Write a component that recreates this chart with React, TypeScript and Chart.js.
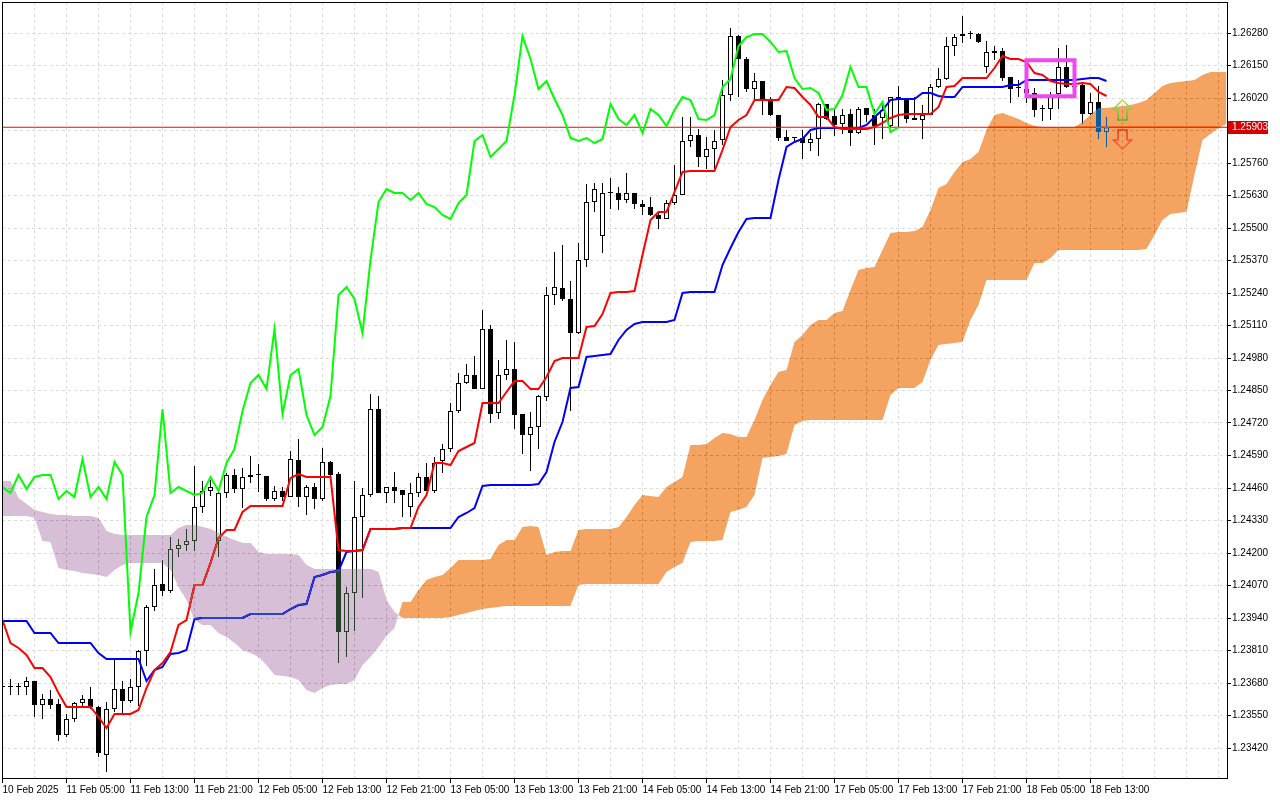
import React, { useEffect, useRef } from 'react';
import { Chart, registerables } from 'chart.js';
import type { ChartConfiguration, Plugin } from 'chart.js';

// H1 bars, 10 Feb 21:00 .. 18 Feb 15:00 (index = bar number)
const opens = [
  1.23664, 1.23664, 1.23664, 1.23664, 1.23688, 1.23592, 1.23616, 1.23596, 1.23472, 1.23536,
  1.23600, 1.23616, 1.23584, 1.23392, 1.23576, 1.23656, 1.23608, 1.23664, 1.23808, 1.23984,
  1.24076, 1.24048, 1.24216, 1.24232, 1.24248, 1.24384, 1.24448, 1.24248, 1.24440, 1.24512,
  1.24456, 1.24504, 1.24512, 1.24508, 1.24416, 1.24448, 1.24424, 1.24572, 1.24424, 1.24464,
  1.24416, 1.24564, 1.24516, 1.23884, 1.24040, 1.24344, 1.24432, 1.24776, 1.24440, 1.24464,
  1.24452, 1.24384, 1.24440, 1.24504, 1.24448, 1.24568, 1.24616, 1.24768, 1.24880, 1.24912,
  1.24856, 1.25096, 1.24760, 1.24912, 1.24936, 1.24756, 1.24672, 1.24704, 1.24824, 1.25232,
  1.25260, 1.25216, 1.25080, 1.25372, 1.25604, 1.25468, 1.25640, 1.25640, 1.25612, 1.25640,
  1.25596, 1.25584, 1.25552, 1.25536, 1.25600, 1.25632, 1.25848, 1.25872, 1.25784, 1.25816,
  1.25852, 1.26032, 1.26268, 1.26176, 1.26056, 1.26088, 1.26012, 1.25952, 1.25864, 1.25860,
  1.25860, 1.25840, 1.25856, 1.25996, 1.25948, 1.25916, 1.25956, 1.25880, 1.25980, 1.25952,
  1.25940, 1.25908, 1.26024, 1.26016, 1.25940, 1.25932, 1.25952, 1.26064, 1.26096, 1.26228,
  1.26268, 1.26276, 1.26276, 1.26144, 1.26200, 1.26208, 1.26104, 1.26060, 1.26056, 1.26040,
  1.25976, 1.25976, 1.26036, 1.26144, 1.26064, 1.26072, 1.25956, 1.26004, 1.25884,
];
const highs = [
  1.23672, 1.23696, 1.23680, 1.23704, 1.23688, 1.23636, 1.23652, 1.23616, 1.23556, 1.23604,
  1.23632, 1.23664, 1.23588, 1.23604, 1.23776, 1.23688, 1.23696, 1.23812, 1.23992, 1.24136,
  1.24172, 1.24264, 1.24256, 1.24296, 1.24548, 1.24488, 1.24492, 1.24448, 1.24520, 1.24536,
  1.24540, 1.24588, 1.24556, 1.24508, 1.24468, 1.24464, 1.24608, 1.24656, 1.24472, 1.24480,
  1.24620, 1.24568, 1.24524, 1.24064, 1.24488, 1.24460, 1.24836, 1.24828, 1.24464, 1.24524,
  1.24452, 1.24480, 1.24520, 1.24560, 1.24584, 1.24636, 1.24800, 1.24920, 1.24956, 1.24988,
  1.25172, 1.25112, 1.24972, 1.25052, 1.25044, 1.24756, 1.24764, 1.24832, 1.25264, 1.25404,
  1.25432, 1.25288, 1.25440, 1.25676, 1.25680, 1.25680, 1.25700, 1.25664, 1.25720, 1.25640,
  1.25612, 1.25624, 1.25568, 1.25612, 1.25752, 1.25944, 1.25944, 1.25896, 1.25864, 1.25892,
  1.26092, 1.26300, 1.26272, 1.26184, 1.26120, 1.26088, 1.26024, 1.25952, 1.25892, 1.25864,
  1.25892, 1.25880, 1.26000, 1.25996, 1.25976, 1.25976, 1.25976, 1.25984, 1.25980, 1.25976,
  1.26000, 1.26024, 1.26068, 1.26016, 1.26024, 1.25992, 1.26076, 1.26140, 1.26264, 1.26276,
  1.26348, 1.26288, 1.26280, 1.26248, 1.26228, 1.26220, 1.26104, 1.26092, 1.26072, 1.26060,
  1.25992, 1.26044, 1.26220, 1.26232, 1.26076, 1.26080, 1.26040, 1.26068, 1.25944,
];
const lows = [
  1.23656, 1.23632, 1.23632, 1.23632, 1.23544, 1.23536, 1.23576, 1.23448, 1.23464, 1.23524,
  1.23584, 1.23576, 1.23384, 1.23324, 1.23564, 1.23560, 1.23600, 1.23588, 1.23748, 1.23968,
  1.24028, 1.24040, 1.24184, 1.24208, 1.24208, 1.24360, 1.24428, 1.24184, 1.24420, 1.24440,
  1.24380, 1.24480, 1.24444, 1.24408, 1.24408, 1.24408, 1.24424, 1.24384, 1.24352, 1.24376,
  1.24408, 1.24508, 1.23760, 1.23784, 1.23888, 1.24020, 1.24424, 1.24440, 1.24400, 1.24400,
  1.24344, 1.24344, 1.24424, 1.24448, 1.24440, 1.24520, 1.24604, 1.24760, 1.24876, 1.24856,
  1.24856, 1.24720, 1.24736, 1.24892, 1.24696, 1.24596, 1.24528, 1.24616, 1.24808, 1.25192,
  1.25208, 1.24768, 1.25076, 1.25344, 1.25564, 1.25400, 1.25576, 1.25572, 1.25600, 1.25576,
  1.25552, 1.25548, 1.25496, 1.25536, 1.25592, 1.25632, 1.25824, 1.25744, 1.25736, 1.25736,
  1.25832, 1.26008, 1.26024, 1.26044, 1.26012, 1.25952, 1.25948, 1.25848, 1.25848, 1.25844,
  1.25776, 1.25808, 1.25788, 1.25932, 1.25868, 1.25876, 1.25828, 1.25876, 1.25924, 1.25832,
  1.25856, 1.25904, 1.25904, 1.25920, 1.25932, 1.25856, 1.25952, 1.26060, 1.26092, 1.26188,
  1.26240, 1.26256, 1.26240, 1.26120, 1.26172, 1.26088, 1.26000, 1.26024, 1.26000, 1.25944,
  1.25928, 1.25932, 1.25976, 1.26060, 1.26044, 1.25916, 1.25952, 1.25856, 1.25824,
];
const closes = [
  1.23664, 1.23664, 1.23664, 1.23688, 1.23592, 1.23616, 1.23592, 1.23472, 1.23536, 1.23600,
  1.23616, 1.23584, 1.23400, 1.23576, 1.23656, 1.23608, 1.23664, 1.23808, 1.23984, 1.24072,
  1.24048, 1.24216, 1.24232, 1.24248, 1.24384, 1.24448, 1.24464, 1.24440, 1.24512, 1.24456,
  1.24504, 1.24512, 1.24512, 1.24416, 1.24448, 1.24424, 1.24576, 1.24424, 1.24464, 1.24416,
  1.24564, 1.24512, 1.23884, 1.24040, 1.24344, 1.24432, 1.24776, 1.24440, 1.24464, 1.24448,
  1.24432, 1.24440, 1.24504, 1.24448, 1.24560, 1.24616, 1.24768, 1.24880, 1.24912, 1.24856,
  1.25096, 1.24756, 1.24912, 1.24936, 1.24752, 1.24672, 1.24704, 1.24828, 1.25232, 1.25264,
  1.25216, 1.25080, 1.25372, 1.25604, 1.25656, 1.25640, 1.25640, 1.25612, 1.25640, 1.25596,
  1.25584, 1.25552, 1.25536, 1.25600, 1.25632, 1.25848, 1.25872, 1.25784, 1.25816, 1.25848,
  1.26032, 1.26268, 1.26176, 1.26056, 1.26088, 1.26016, 1.25952, 1.25860, 1.25848, 1.25860,
  1.25840, 1.25856, 1.25996, 1.25936, 1.25912, 1.25952, 1.25880, 1.25976, 1.25952, 1.25908,
  1.25972, 1.26024, 1.26012, 1.25936, 1.25932, 1.25952, 1.26064, 1.26096, 1.26228, 1.26264,
  1.26276, 1.26276, 1.26244, 1.26204, 1.26208, 1.26100, 1.26056, 1.26060, 1.26040, 1.25972,
  1.25976, 1.26032, 1.26144, 1.26064, 1.26064, 1.25956, 1.26004, 1.25884, 1.25903,
];

// Ichimoku (9, 26, 52)
const tenkan = [
  1.23932, 1.23840, 1.23820, 1.23792, 1.23740, 1.23740, 1.23704, 1.23640, 1.23584, 1.23584,
  1.23584, 1.23584, 1.23544, 1.23500, 1.23556, 1.23556, 1.23556, 1.23572, 1.23660, 1.23732,
  1.23760, 1.23804, 1.23912, 1.23932, 1.24072, 1.24072, 1.24160, 1.24260, 1.24292, 1.24292,
  1.24364, 1.24388, 1.24388, 1.24388, 1.24388, 1.24388, 1.24500, 1.24516, 1.24504, 1.24504,
  1.24504, 1.24504, 1.24212, 1.24208, 1.24208, 1.24212, 1.24296, 1.24296, 1.24296, 1.24296,
  1.24300, 1.24300, 1.24384, 1.24432, 1.24560, 1.24560, 1.24552, 1.24608, 1.24624, 1.24640,
  1.24800, 1.24800, 1.24800, 1.24844, 1.24888, 1.24888, 1.24856, 1.24856, 1.24904, 1.24968,
  1.24980, 1.24980, 1.24980, 1.25104, 1.25108, 1.25156, 1.25240, 1.25244, 1.25244, 1.25248,
  1.25392, 1.25532, 1.25564, 1.25564, 1.25644, 1.25724, 1.25728, 1.25728, 1.25728, 1.25728,
  1.25812, 1.25904, 1.25932, 1.25952, 1.26012, 1.26012, 1.26012, 1.26012, 1.26064, 1.26060,
  1.26024, 1.25992, 1.25944, 1.25944, 1.25904, 1.25896, 1.25896, 1.25896, 1.25896, 1.25904,
  1.25920, 1.25940, 1.25952, 1.25956, 1.25956, 1.25956, 1.25956, 1.25984, 1.26064, 1.26068,
  1.26100, 1.26100, 1.26100, 1.26100, 1.26140, 1.26188, 1.26176, 1.26176, 1.26164, 1.26120,
  1.26112, 1.26088, 1.26080, 1.26076, 1.26076, 1.26080, 1.26076, 1.26044, 1.26028,
];
const kijun = [
  1.23928, 1.23928, 1.23928, 1.23928, 1.23880, 1.23880, 1.23880, 1.23840, 1.23840, 1.23840,
  1.23840, 1.23840, 1.23800, 1.23776, 1.23776, 1.23776, 1.23776, 1.23776, 1.23688, 1.23732,
  1.23744, 1.23796, 1.23800, 1.23812, 1.23936, 1.23940, 1.23940, 1.23940, 1.23940, 1.23940,
  1.23940, 1.23956, 1.23956, 1.23956, 1.23956, 1.23956, 1.23976, 1.23992, 1.23996, 1.24104,
  1.24112, 1.24124, 1.24128, 1.24204, 1.24208, 1.24212, 1.24296, 1.24296, 1.24296, 1.24296,
  1.24300, 1.24300, 1.24300, 1.24300, 1.24300, 1.24300, 1.24300, 1.24344, 1.24360, 1.24380,
  1.24468, 1.24472, 1.24472, 1.24472, 1.24472, 1.24472, 1.24472, 1.24476, 1.24524, 1.24644,
  1.24724, 1.24860, 1.24864, 1.24984, 1.24988, 1.24992, 1.24996, 1.25052, 1.25092, 1.25116,
  1.25124, 1.25124, 1.25124, 1.25124, 1.25132, 1.25240, 1.25244, 1.25244, 1.25244, 1.25244,
  1.25352, 1.25420, 1.25484, 1.25536, 1.25540, 1.25540, 1.25540, 1.25692, 1.25824, 1.25844,
  1.25856, 1.25892, 1.25900, 1.25900, 1.25900, 1.25900, 1.25900, 1.25900, 1.25912, 1.25944,
  1.25972, 1.26012, 1.26016, 1.26016, 1.26016, 1.26040, 1.26040, 1.26028, 1.26024, 1.26024,
  1.26064, 1.26064, 1.26064, 1.26064, 1.26064, 1.26064, 1.26072, 1.26072, 1.26092, 1.26092,
  1.26092, 1.26092, 1.26092, 1.26092, 1.26092, 1.26096, 1.26100, 1.26100, 1.26088,
];
// lagging line: the closes drawn 26 bars back
const chikou = [
  1.24464, 1.24440, 1.24512, 1.24456, 1.24504, 1.24512, 1.24512, 1.24416, 1.24448, 1.24424,
  1.24576, 1.24424, 1.24464, 1.24416, 1.24564, 1.24512, 1.23884, 1.24040, 1.24344, 1.24432,
  1.24776, 1.24440, 1.24464, 1.24448, 1.24432, 1.24440, 1.24504, 1.24448, 1.24560, 1.24616,
  1.24768, 1.24880, 1.24912, 1.24856, 1.25096, 1.24756, 1.24912, 1.24936, 1.24752, 1.24672,
  1.24704, 1.24828, 1.25232, 1.25264, 1.25216, 1.25080, 1.25372, 1.25604, 1.25656, 1.25640,
  1.25640, 1.25612, 1.25640, 1.25596, 1.25584, 1.25552, 1.25536, 1.25600, 1.25632, 1.25848,
  1.25872, 1.25784, 1.25816, 1.25848, 1.26032, 1.26268, 1.26176, 1.26056, 1.26088, 1.26016,
  1.25952, 1.25860, 1.25848, 1.25860, 1.25840, 1.25856, 1.25996, 1.25936, 1.25912, 1.25952,
  1.25880, 1.25976, 1.25952, 1.25908, 1.25972, 1.26024, 1.26012, 1.25936, 1.25932, 1.25952,
  1.26064, 1.26096, 1.26228, 1.26264, 1.26276, 1.26276, 1.26244, 1.26204, 1.26208, 1.26100,
  1.26056, 1.26060, 1.26040, 1.25972, 1.25976, 1.26032, 1.26144, 1.26064, 1.26064, 1.25956,
  1.26004, 1.25884, 1.25903,
];
// cloud edges, running on past the last bar
const spanA = [
  1.24348, 1.24348, 1.24348, 1.24348, 1.24340, 1.24248, 1.24244, 1.24140, 1.24132, 1.24128,
  1.24120, 1.24116, 1.24112, 1.24104, 1.24132, 1.24152, 1.24160, 1.24160, 1.24160, 1.24160,
  1.24160, 1.24132, 1.24064, 1.24012, 1.23932, 1.23912, 1.23912, 1.23880, 1.23864, 1.23840,
  1.23812, 1.23800, 1.23784, 1.23752, 1.23712, 1.23708, 1.23704, 1.23692, 1.23652, 1.23640,
  1.23660, 1.23672, 1.23676, 1.23676, 1.23692, 1.23752, 1.23784, 1.23824, 1.23868, 1.23900,
  1.24004, 1.24004, 1.24052, 1.24092, 1.24104, 1.24112, 1.24140, 1.24172, 1.24172, 1.24172,
  1.24172, 1.24176, 1.24232, 1.24252, 1.24252, 1.24304, 1.24308, 1.24304, 1.24192, 1.24204,
  1.24208, 1.24208, 1.24292, 1.24296, 1.24296, 1.24296, 1.24296, 1.24304, 1.24344, 1.24392,
  1.24432, 1.24428, 1.24424, 1.24464, 1.24484, 1.24504, 1.24632, 1.24632, 1.24636, 1.24660,
  1.24680, 1.24676, 1.24664, 1.24664, 1.24732, 1.24812, 1.24872, 1.24924, 1.24932, 1.25044,
  1.25072, 1.25112, 1.25132, 1.25132, 1.25160, 1.25168, 1.25252, 1.25332, 1.25340, 1.25344,
  1.25412, 1.25480, 1.25484, 1.25484, 1.25488, 1.25504, 1.25572, 1.25660, 1.25676, 1.25724,
  1.25764, 1.25776, 1.25804, 1.25892, 1.25952, 1.25960, 1.25948, 1.25936, 1.25920, 1.25908,
  1.25904, 1.25904, 1.25904, 1.25904, 1.25904, 1.25924, 1.25952, 1.25980, 1.25980, 1.25984,
  1.25988, 1.25992, 1.26000, 1.26012, 1.26040, 1.26068, 1.26080, 1.26084, 1.26088, 1.26092,
  1.26112, 1.26124, 1.26124, 1.26124,
];
const spanB = [
  1.24488, 1.24488, 1.24420, 1.24396, 1.24372, 1.24364, 1.24356, 1.24352, 1.24352, 1.24348,
  1.24348, 1.24348, 1.24340, 1.24288, 1.24276, 1.24272, 1.24272, 1.24272, 1.24272, 1.24272,
  1.24272, 1.24272, 1.24300, 1.24312, 1.24312, 1.24304, 1.24296, 1.24280, 1.24264, 1.24252,
  1.24240, 1.24240, 1.24204, 1.24196, 1.24196, 1.24196, 1.24196, 1.24192, 1.24152, 1.24136,
  1.24136, 1.24136, 1.24136, 1.24136, 1.24136, 1.24136, 1.24136, 1.24124, 1.24012, 1.23964,
  1.23940, 1.23940, 1.23940, 1.23940, 1.23940, 1.23940, 1.23944, 1.23952, 1.23960, 1.23968,
  1.23976, 1.23980, 1.23984, 1.23988, 1.23988, 1.23988, 1.23988, 1.23988, 1.23988, 1.23988,
  1.23988, 1.23988, 1.24072, 1.24076, 1.24076, 1.24076, 1.24076, 1.24076, 1.24076, 1.24076,
  1.24076, 1.24076, 1.24076, 1.24124, 1.24144, 1.24160, 1.24244, 1.24248, 1.24248, 1.24248,
  1.24252, 1.24364, 1.24372, 1.24384, 1.24432, 1.24580, 1.24584, 1.24588, 1.24596, 1.24712,
  1.24728, 1.24732, 1.24732, 1.24732, 1.24732, 1.24732, 1.24732, 1.24732, 1.24732, 1.24732,
  1.24732, 1.24832, 1.24860, 1.24860, 1.24860, 1.24884, 1.24972, 1.25032, 1.25036, 1.25040,
  1.25044, 1.25132, 1.25192, 1.25292, 1.25292, 1.25292, 1.25292, 1.25292, 1.25292, 1.25360,
  1.25360, 1.25380, 1.25412, 1.25412, 1.25412, 1.25412, 1.25412, 1.25412, 1.25412, 1.25412,
  1.25412, 1.25412, 1.25412, 1.25416, 1.25472, 1.25532, 1.25556, 1.25560, 1.25564, 1.25712,
  1.25852, 1.25876, 1.25900, 1.25916,
];

// one label every 8 bars
const timeLabels = [
  '10 Feb 2025', '11 Feb 05:00', '11 Feb 13:00', '11 Feb 21:00', '12 Feb 05:00', '12 Feb 13:00',
  '12 Feb 21:00', '13 Feb 05:00', '13 Feb 13:00', '13 Feb 21:00', '14 Feb 05:00', '14 Feb 13:00',
  '14 Feb 21:00', '17 Feb 05:00', '17 Feb 13:00', '17 Feb 21:00', '18 Feb 05:00', '18 Feb 13:00',
];
const priceTicks = [
  1.2628, 1.2615, 1.2602, 1.2589, 1.2576, 1.2563, 1.255, 1.2537, 1.2524, 1.2511, 1.2498, 1.2485,
  1.2472, 1.2459, 1.2446, 1.2433, 1.242, 1.2407, 1.2394, 1.2381, 1.2368, 1.2355, 1.2342,
];
const currentPrice = 1.25903;

// hand-drawn marks on the chart
const focusBox = { from: 128, to: 134, high: 1.26171, low: 1.26027 };
const signalBar = 140;
const upArrow = { tip: 1.26012, tail: 1.25932 };
const downArrow = { tip: 1.25816, tail: 1.25892 };

const X_MIN = -0.0625;
const X_MAX = 153.0625;
const Y_MIN = 1.233;
const Y_MAX = 1.26404;
const LABEL_EVERY = 8;
const GRID_EVERY = 4;

const tickFont = { family: "'Liberation Sans', Arial, sans-serif", size: 10 };
const gridColor = '#dcdcdc';

// MT5 paints the cloud in XOR mode: 'difference' with the inverted colour does the same
const cloudBlend: Plugin = {
  id: 'cloudBlend',
  beforeDatasetDraw(chart, args) {
    if ((chart.data.datasets[args.index] as any).blend) {
      chart.ctx.save();
      chart.ctx.globalCompositeOperation = 'difference';
    }
  },
  afterDatasetDraw(chart, args) {
    if ((chart.data.datasets[args.index] as any).blend) chart.ctx.restore();
  },
};

// must sit before the Filler plugin so the fill is drawn in blend mode
Chart.register(cloudBlend, ...registerables);

const isLabelTick = (v: number) => v % LABEL_EVERY === 0 && v / LABEL_EVERY < timeLabels.length;

function drawArrow(ctx: CanvasRenderingContext2D, cx: number, tipY: number, tailY: number, top: string, bottom: string) {
  const dir = tailY > tipY ? 1 : -1;
  const head = 9;
  const half = 9;
  const shaft = 4.5;
  const neck = tipY + dir * head;
  const grad = ctx.createLinearGradient(0, Math.min(tipY, tailY), 0, Math.max(tipY, tailY));
  grad.addColorStop(0, top);
  grad.addColorStop(1, bottom);
  ctx.beginPath();
  ctx.moveTo(cx, tipY);
  ctx.lineTo(cx + half, neck);
  ctx.lineTo(cx + shaft, neck);
  ctx.lineTo(cx + shaft, tailY);
  ctx.lineTo(cx - shaft, tailY);
  ctx.lineTo(cx - shaft, neck);
  ctx.lineTo(cx - half, neck);
  ctx.closePath();
  ctx.strokeStyle = grad;
  ctx.lineWidth = 1.6;
  ctx.stroke();
}

const overlay: Plugin = {
  id: 'overlay',
  beforeDraw(chart) {
    const { ctx } = chart;
    ctx.save();
    ctx.fillStyle = '#ffffff';
    ctx.fillRect(0, 0, chart.width, chart.height);
    ctx.restore();
  },
  afterDatasetsDraw(chart) {
    const { ctx } = chart;
    const x = chart.scales.x;
    const y = chart.scales.y;
    ctx.save();
    const x0 = x.getPixelForValue(focusBox.from);
    const x1 = x.getPixelForValue(focusBox.to);
    const y0 = y.getPixelForValue(focusBox.high);
    const y1 = y.getPixelForValue(focusBox.low);
    ctx.strokeStyle = 'rgb(240,72,240)';
    ctx.lineWidth = 4;
    ctx.strokeRect(x0, y0, x1 - x0, y1 - y0);

    const ax = x.getPixelForValue(signalBar);
    drawArrow(ctx, ax, y.getPixelForValue(upArrow.tip), y.getPixelForValue(upArrow.tail), '#b4e65a', '#4fb82a');
    drawArrow(ctx, ax, y.getPixelForValue(downArrow.tip), y.getPixelForValue(downArrow.tail), '#f0321e', '#ff6a3c');
    ctx.restore();
  },
  afterDraw(chart) {
    const { ctx, chartArea } = chart;
    const y = chart.scales.y;
    ctx.save();
    ctx.strokeStyle = '#000';
    ctx.lineWidth = 1;
    ctx.strokeRect(chartArea.left + 0.5, chartArea.top + 0.5, chartArea.right - chartArea.left, chartArea.bottom - chartArea.top);

    const py = y.getPixelForValue(currentPrice);
    ctx.fillStyle = '#d20000';
    ctx.fillRect(chartArea.right + 1, Math.round(py) - 6, 40, 13);
    ctx.fillStyle = '#fff';
    ctx.font = `${tickFont.size}px ${tickFont.family}`;
    ctx.textBaseline = 'middle';
    ctx.textAlign = 'left';
    ctx.fillText(currentPrice.toFixed(5), chartArea.right + 5, Math.round(py) + 0.5);
    ctx.restore();
  },
};

const points = (values: number[]) => values.map((v, i) => ({ x: i, y: v }));

export default function App() {
  const canvasRef = useRef<HTMLCanvasElement | null>(null);

  useEffect(() => {
    if (!canvasRef.current) return;

    const config: ChartConfiguration<'bar' | 'line', any, any> = {
      type: 'bar',
      data: {
        datasets: [
          {
            type: 'bar',
            label: 'wicks',
            data: lows.map((l, i) => ({ x: i, y: [l, highs[i]] })),
            backgroundColor: '#000',
            borderWidth: 0,
            barThickness: 1,
            inflateAmount: 0,
            grouped: false,
            order: 10,
          },
          {
            type: 'bar',
            label: 'bodies',
            data: opens.map((o, i) => ({ x: i, y: [o, closes[i]] })),
            backgroundColor: opens.map((o, i) => (closes[i] >= o ? '#fff' : '#000')),
            borderColor: '#000',
            borderWidth: 1,
            borderSkipped: false,
            barThickness: 5,
            minBarLength: 1,
            inflateAmount: 0,
            grouped: false,
            order: 9,
          },
          {
            type: 'line',
            label: 'Kijun-sen',
            data: points(kijun),
            borderColor: 'rgb(0,0,255)',
            borderWidth: 2,
            pointRadius: 0,
            fill: false,
            order: 8,
          },
          {
            type: 'line',
            label: 'Tenkan-sen',
            data: points(tenkan),
            borderColor: 'rgb(255,0,0)',
            borderWidth: 2,
            pointRadius: 0,
            fill: false,
            order: 7,
          },
          {
            type: 'line',
            label: 'price',
            data: [
              { x: X_MIN - 1, y: currentPrice },
              { x: X_MAX + 1, y: currentPrice },
            ],
            borderColor: 'rgb(255,0,0)',
            borderWidth: 1,
            pointRadius: 0,
            fill: false,
            order: 6,
          },
          {
            type: 'line',
            label: 'Senkou Span B',
            data: points(spanB),
            borderWidth: 0,
            borderColor: 'rgba(0,0,0,0)',
            pointRadius: 0,
            fill: false,
            order: 5,
          },
          {
            type: 'line',
            label: 'Senkou Span A',
            data: points(spanA),
            borderWidth: 0,
            borderColor: 'rgba(0,0,0,0)',
            pointRadius: 0,
            // inverted SandyBrown / Thistle
            fill: { target: 5, above: 'rgb(11,91,159)', below: 'rgb(39,64,39)' },
            blend: true,
            order: 4,
          },
          {
            type: 'line',
            label: 'Chikou Span',
            data: points(chikou),
            borderColor: 'rgb(0,255,0)',
            borderWidth: 2,
            pointRadius: 0,
            fill: false,
            order: 3,
          },
        ],
      },
      options: {
        animation: false,
        responsive: false,
        events: [],
        layout: { padding: { left: 2, top: 2, right: 0, bottom: 0 } },
        plugins: {
          legend: { display: false },
          tooltip: { enabled: false },
        },
        scales: {
          x: {
            type: 'linear',
            position: 'bottom',
            min: X_MIN,
            max: X_MAX,
            bounds: 'data',
            offset: false,
            afterBuildTicks: (axis: any) => {
              const ticks = [];
              for (let v = 0; v <= X_MAX; v += GRID_EVERY) ticks.push({ value: v });
              axis.ticks = ticks;
            },
            afterFit: (axis: any) => {
              axis.height = 22;
              axis.paddingLeft = 0;
              axis.paddingRight = 0;
            },
            ticks: {
              autoSkip: false,
              maxRotation: 0,
              minRotation: 0,
              align: 'start',
              padding: 1,
              color: '#000',
              font: tickFont,
              callback: (value: any) => {
                const v = Number(value);
                return isLabelTick(v) ? timeLabels[v / LABEL_EVERY] : '';
              },
            },
            grid: {
              offset: false,
              color: gridColor,
              lineWidth: 1,
              tickLength: 5,
              tickColor: (ctx: any) => (ctx.tick && isLabelTick(ctx.tick.value) ? '#000' : 'rgba(0,0,0,0)'),
              tickBorderDash: [],
            },
            border: { display: false, dash: [3, 3] },
          },
          y: {
            type: 'linear',
            position: 'right',
            min: Y_MIN,
            max: Y_MAX,
            bounds: 'data',
            afterBuildTicks: (axis: any) => {
              axis.ticks = priceTicks.map((v) => ({ value: v }));
            },
            afterFit: (axis: any) => {
              axis.width = 53;
              axis.paddingTop = 0;
              axis.paddingBottom = 0;
            },
            ticks: {
              autoSkip: false,
              padding: 1,
              color: '#000',
              font: tickFont,
              callback: (value: any) => Number(value).toFixed(5),
            },
            grid: {
              color: gridColor,
              lineWidth: 1,
              tickLength: 4,
              tickColor: '#000',
              tickBorderDash: [],
            },
            border: { display: false, dash: [3, 3] },
          },
        },
      },
      plugins: [overlay],
    };

    const chart = new Chart(canvasRef.current, config as any);
    return () => chart.destroy();
  }, []);

  return (
    <div style={{ position: 'fixed', left: 0, top: 0, width: 1280, height: 800, background: '#fff' }}>
      <canvas ref={canvasRef} width={1280} height={800} />
    </div>
  );
}
